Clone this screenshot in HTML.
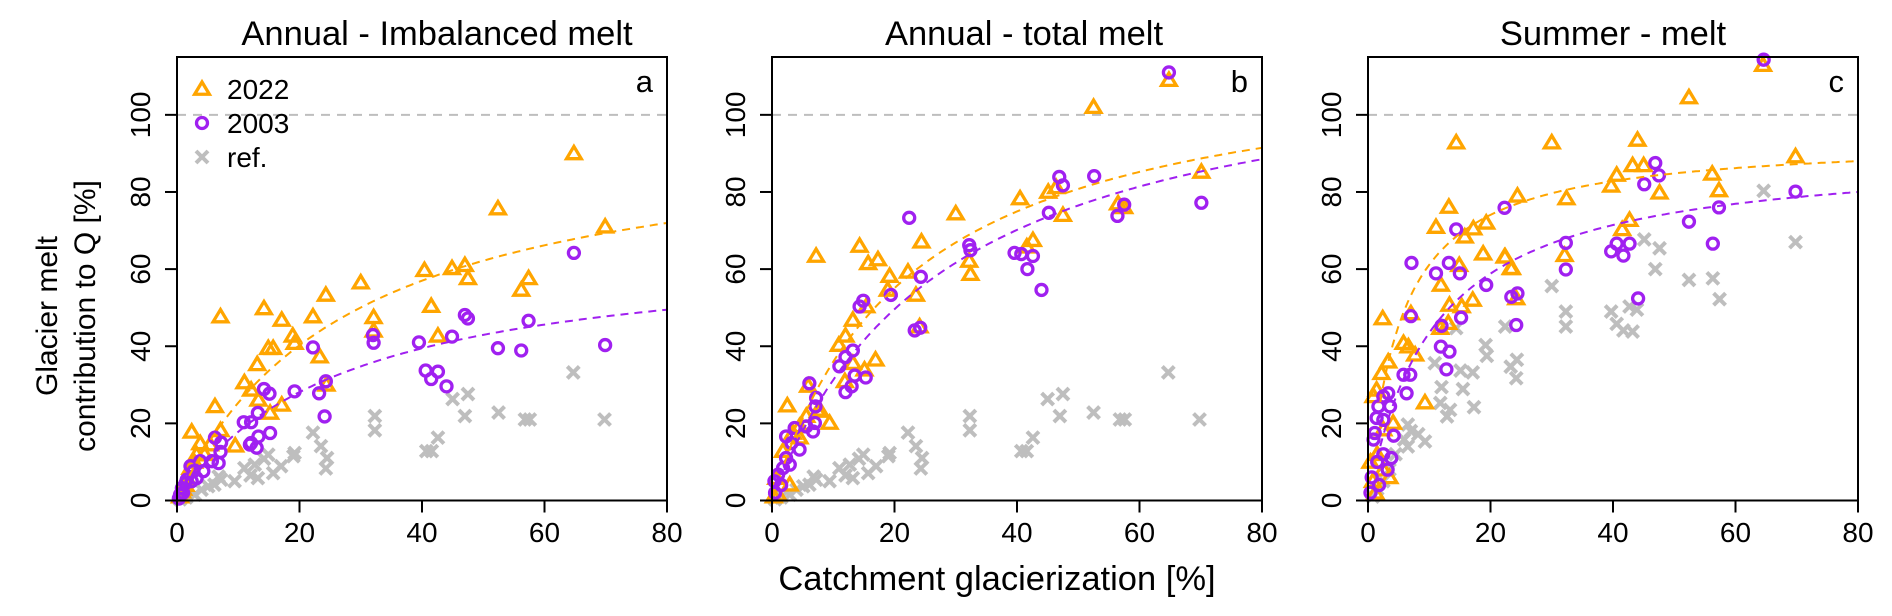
<!DOCTYPE html>
<html><head><meta charset="utf-8"><style>
html,body{margin:0;padding:0;background:#fff;}
svg{display:block;font-family:"Liberation Sans",Arial,sans-serif;}
</style></head><body>
<svg id="chart" width="1892" height="616" viewBox="0 0 1892 616" xmlns="http://www.w3.org/2000/svg">
<g id="root"></g>
</svg>
<script>
const panelTitles = ["Annual - Imbalanced melt", "Annual - total melt", "Summer - melt"];
const panelLetters = ["a", "b", "c"];
const xTicks = [0, 20, 40, 60, 80];
const yTicks = [0, 20, 40, 60, 80, 100];
// fitted curve parameters y = A*x/(B+x)
const fit22A = [97.6, 117.3, 93.9];
const fit22B = [28.5, 22.6, 5.36];
const fit03A = [66.3, 119.8, 90.9];
const fit03B = [27.2, 28.3, 10.9];

const a22x = [7.1,14.2,17.1,22.2,24.3,30,32.1,32.1,40.4,41.5,42.6,44.9,47,47.5,52.4,56.2,57.4,64.8,69.9,18.9,19.2,14.9,15.7,13.1,11,12.1,13.3,15.2,17.1,23.3,24.4,6.2,2.4,7.1,9.5,3.8,5.4,1.6,2.2,3.2,1.4,0.8,2.8,0.5,4.5,1];
const a22y = [47.7,49.8,46.8,47.7,53.3,56.5,47.5,44,59.7,50.4,42.7,60.2,61,57.6,75.7,54.6,57.6,90,71,42.7,40.8,39.5,39.5,35.3,30.6,28.7,26.1,22.7,24.8,37.3,30,24.4,17.8,18.2,14.2,14.8,14.5,5.8,8.4,11.9,4,2.3,10,1,12,3];
const a03x = [22.2,19.2,23.2,24.3,24.1,14.2,15.1,32,32.1,39.5,40.6,41.5,42.6,44,44.9,47,47.5,52.4,56.2,57.4,64.8,69.9,10.9,12.1,13.2,15.2,13.3,12.1,11.9,13,6.2,7.2,7.1,6.8,5.7,4.3,3.8,2.2,2.7,1.6,0.8,0.5,1.4,2.4,3.2,0.3,1];
const a03y = [39.7,28.3,27.8,30.9,21.8,28.9,27.7,42.9,40.9,41,33.7,31.5,33.4,29.6,42.5,48.1,47.2,39.5,38.9,46.6,64.2,40.3,20.3,20.3,22.7,17.5,16.6,14.9,14.5,13.7,16.3,15,12.6,9.7,10.2,7.6,10.2,8.9,7.6,5.4,3.2,1.5,4.5,5,5.8,0.5,2];
const refABx = [64.7,69.8,56.8,57.6,52.5,47,47.5,45,42.6,40.7,41.6,32.3,32.3,22.2,23.5,24.5,24.3,19.2,17,15.7,14.9,12.7,11,13.2,9.4,7.2,6.1,5.1,4,2.9,14.2,12,19,6.8,1.5,0.5];
const refABy = [33.2,21,21,21,22.8,21.9,27.6,26.3,16.3,12.8,12.8,21.9,18.2,17.6,14.1,11,8.3,12.3,8.9,7.1,11.9,9.3,8.4,5.8,5,5.4,4.1,3.7,2.8,1.5,10.8,6.5,11.5,6.2,0.8,0.3];
const b22x = [7.2,2.5,14.3,15.7,17.3,19.2,18.9,22.2,24.4,23.5,30,32.2,32.4,40.5,41.6,42.6,45.1,47.5,46.4,13.2,12,10.9,13.2,16.9,9.4,11.9,15.1,5.9,7.8,4.5,3.4,24.1,15.4,52.5,64.8,70.1,56.5,57.5,7.5,5.6,1.8,2.9,0.7,1,4.5,0.3];
const b22y = [63.4,24.6,66,61.5,62.5,58.2,54.6,59.3,67.1,53.3,74.4,62.1,58.7,78.3,65.8,67.5,80,74,81.2,46.8,42.7,40.3,35.6,36.5,20.1,30.9,33.9,29.7,23.5,19.2,17.5,45.1,50.3,102,109,85.2,77,76,23.2,21.9,12.8,4.1,5.8,1.5,16.3,1];
const b03x = [64.8,52.6,56.4,57.5,70.1,22.4,24.3,19.4,32.2,32.4,39.6,40.7,42.6,41.7,44,45.2,46.9,47.5,14.9,14.3,23.3,24.2,11,12,13.2,13.5,15.3,12,13,6.1,7.2,7.1,7,6.7,5.6,3.7,2.3,3.2,4.5,2.9,1.8,1,0.4,2.3,0.5,1.5];
const b03y = [111,84.1,73.8,76.7,77.2,73.3,58,53.3,66.2,64.9,64.2,63.9,63.4,60,54.6,74.6,83.9,81.7,51.8,50.3,44.1,44.8,34.8,37.2,38.9,32.4,31.9,28.1,29.6,30.4,26.6,24.4,20.1,17.9,19.2,18.8,16.6,14.9,13.2,9.3,8.4,6.7,5,11,2,4];
const c22x = [14.4,30,13.2,11.1,17.2,19.3,15.8,24.4,18.8,22.3,23.3,14.9,11.9,13.3,15.3,17.1,24.2,11.8,13.1,7,2.4,5.8,7.7,6.6,9.3,3.3,2.2,1.4,0.9,4.1,2.5,52.4,64.5,44,43.2,45,40.6,39.7,47.6,32.4,56.2,57.3,69.8,42.7,41.5,32.1,22.4,23.5,1.5,2.5,0.8,3.5,1.2,0.4];
const c22y = [92.8,92.8,76.1,70.9,70.5,72,68.4,79,64,63.2,60.2,61,55.9,50.7,50.3,52,52.4,44.7,46,48.5,47.2,40.8,37.8,39.9,25.4,36,33,28.7,27,20.1,18.4,104.5,112.9,93.5,86.9,86.9,84.4,81.6,79.8,78.3,84.7,80.4,89.2,72.7,70.3,63.6,63.2,60.2,12,8,5,6,2,10];
const c03x = [22.3,14.4,7.1,11.1,13.2,15,19.3,23.4,24.4,24.2,12,15.2,7,11.9,13.3,12.8,5.8,6.9,6.3,3.3,2.5,3.6,1.7,1.4,2.5,1.1,4.2,0.9,46.9,47.5,45.1,57.3,52.4,69.8,32.3,32.3,40.6,39.7,42.7,41.7,56.3,44.1,64.6,2.5,1.5,3.2,0.6,1.8,0.4,3.8];
const c03y = [75.9,70.3,61.6,58.9,61.6,58.9,55.9,52.8,53.7,45.5,45.3,47.4,47.8,39.9,38.6,34,32.6,32.6,27.8,27.8,27,24.4,24.4,21.4,20.9,17.5,16.8,15.8,87.5,84.3,82,76,72.3,80.1,66.8,59.9,66.6,64.6,66.6,63.5,66.6,52.4,114.3,12,10,8,6,4,2,11];
const refCx = [64.6,69.8,45.1,47.6,46.9,52.4,56.3,57.4,30,32.3,32.3,39.7,40.6,42.7,43.9,41.7,43.2,22.4,19.2,19.4,24.3,23.3,24.2,14.4,10.9,12,11.8,13.4,12.9,15.1,17.1,15.5,17.3,6.5,7,5.9,9.3,8.2,4.5,3.5,2.5,1.5,6.5,0.8];
const refCy = [80.3,67,67.7,65.4,60,57.2,57.6,52.2,55.6,49,45.1,49,45.8,50.3,49.5,44.1,43.8,45.1,40.3,37.5,36.5,34.7,31.7,44.7,35.6,29.4,25.3,23.5,21.8,33.7,33.2,28.9,24.2,19.7,18,15.8,15.3,17.2,12,8,5,3,14,1];

const series22X = [a22x, b22x, c22x], series22Y = [a22y, b22y, c22y];
const series03X = [a03x, b03x, c03x], series03Y = [a03y, b03y, c03y];
const refX = [refABx, refABx, refCx], refY = [refABy, refABy, refCy];

const NS = "http://www.w3.org/2000/svg";
const root = document.getElementById("root");
function mk(tag, attrs, parent) {
  const e = document.createElementNS(NS, tag);
  for (const k in attrs) e.setAttribute(k, attrs[k]);
  (parent || root).appendChild(e);
  return e;
}
const ORANGE = "#FFA500", PURPLE = "#A020F0", GRAY = "#BEBEBE";
const panelLeft = [177, 772, 1368];
const titleX = [437, 1024, 1613];
const PW = 490, TOP = 57, BOTTOM = 500.5, YMAX = 115;

function triangle(g, cx, cy, name) {
  const s = 7;
  const p = mk("polygon", {points: `${cx},${cy - s} ${cx - s * 1.05},${cy + s * 0.75} ${cx + s * 1.05},${cy + s * 0.75}`, fill: "none", stroke: ORANGE, "stroke-width": 3.3, "stroke-linejoin": "miter"}, g);
  
  
}
function circle(g, cx, cy, name) {
  const c = mk("circle", {cx: cx, cy: cy, r: 5.5, fill: "none", stroke: PURPLE, "stroke-width": 3.3}, g);
  
  
}
function cross(g, cx, cy, name) {
  const s = 6;
  const c = mk("path", {d: `M${cx - s},${cy - s}L${cx + s},${cy + s}M${cx - s},${cy + s}L${cx + s},${cy - s}`, stroke: GRAY, "stroke-width": 4, fill: "none"}, g);
  
  
}

for (let p = 0; p < 3; p++) {
  const L = panelLeft[p];
  const xs = v => L + v / 80 * PW;
  const ys = v => BOTTOM - v / YMAX * (BOTTOM - TOP);
  const g = mk("g", {});
  
  

  const t = mk("text", {x: titleX[p], y: 45, "font-size": 34.5, "text-anchor": "middle", fill: "#000"}, g);
  t.textContent = panelTitles[p];
  
  

  const rl = mk("line", {x1: L, x2: L + PW, y1: ys(100), y2: ys(100), stroke: GRAY, "stroke-width": 2, "stroke-dasharray": "9 7"}, g);
  
  

  const gr = mk("g", {}, g);
  
  
  for (let i = 0; i < refX[p].length; i++) cross(gr, xs(refX[p][i]), ys(refY[p][i]), 'ref-point');
  const g22 = mk("g", {}, g);
  
  
  for (let i = 0; i < series22X[p].length; i++) triangle(g22, xs(series22X[p][i]), ys(series22Y[p][i]), 'point-2022');
  const g03 = mk("g", {}, g);
  
  
  for (let i = 0; i < series03X[p].length; i++) circle(g03, xs(series03X[p][i]), ys(series03Y[p][i]), 'point-2003');

  const fits = [[fit22A[p], fit22B[p], ORANGE, 'fit-curve-2022'], [fit03A[p], fit03B[p], PURPLE, 'fit-curve-2003']];
  for (const [A, B, col, nm] of fits) {
    let d = "";
    for (let v = 2; v <= 80; v += 0.5) {
      const y = A * v / (B + v);
      d += (d ? "L" : "M") + xs(v).toFixed(1) + "," + ys(y).toFixed(1);
    }
    const c = mk("path", {d: d, fill: "none", stroke: col, "stroke-width": 2, "stroke-dasharray": "8 6"}, g);
    
    
  }

  const box = mk("rect", {x: L, y: TOP, width: PW, height: BOTTOM - TOP, fill: "none", stroke: "#000", "stroke-width": 2}, g);
  
  

  for (const v of xTicks) {
    const tk = mk("line", {x1: xs(v), x2: xs(v), y1: BOTTOM, y2: BOTTOM + 12, stroke: "#000", "stroke-width": 2}, g);
    
    
    const tl = mk("text", {x: xs(v), y: 542, "font-size": 28, "text-anchor": "middle"}, g);
    tl.textContent = v;
    
    
  }
  for (const v of yTicks) {
    const tk = mk("line", {x1: L - 12, x2: L, y1: ys(v), y2: ys(v), stroke: "#000", "stroke-width": 2}, g);
    
    
    const tl = mk("text", {x: 0, y: 0, "font-size": 28, "text-anchor": "middle", transform: `translate(${L - 27},${ys(v)}) rotate(-90)`}, g);
    tl.textContent = v;
    
    
  }

  const lt = mk("text", {x: L + PW - 14, y: 92, "font-size": 31, "text-anchor": "end"}, g);
  lt.textContent = panelLetters[p];
  
  
}

const lg = mk("g", {});


triangle(lg, 202, 89, 'legend-symbol-2022');
circle(lg, 202, 123, 'legend-symbol-2003');
cross(lg, 202, 157, 'legend-symbol-ref');
const legLabels = ["2022", "2003", "ref."];
legLabels.forEach((s, i) => {
  const t = mk("text", {x: 227, y: 99 + i * 34, "font-size": 28}, lg);
  t.textContent = s;
  
  
});

const xl = mk("text", {x: 997, y: 590, "font-size": 34.5, "text-anchor": "middle"});
xl.textContent = "Catchment glacierization [%]";


const yl = mk("text", {x: 0, y: 0, "font-size": 30, "text-anchor": "middle", transform: "translate(57,316) rotate(-90)"});
yl.textContent = "Glacier melt";


const yl2 = mk("text", {x: 0, y: 0, "font-size": 30, "text-anchor": "middle", transform: "translate(95,316) rotate(-90)"});
yl2.textContent = "contribution to Q [%]";


</script>
</body></html>
